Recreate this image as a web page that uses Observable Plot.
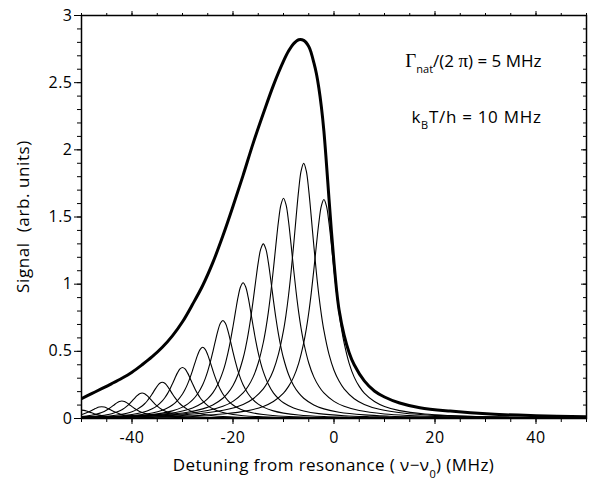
<!DOCTYPE html>
<html><head><meta charset="utf-8">
<script src="https://cdn.jsdelivr.net/npm/d3@7"></script>
<script src="https://cdn.jsdelivr.net/npm/@observablehq/plot@0.6"></script>
<style>
html,body{margin:0;padding:0;background:#fff;}
svg text{font-family:"Open Sans",sans-serif;}
</style>
</head><body><div id="chart"></div>
<script>
// Individual velocity-class peaks (center detuning in MHz, peak height)
const peakCenters = [-58, -54, -50, -46, -42, -38, -34, -30, -26, -22, -18, -14, -10, -6, -2];
const peakHeights = [0.030, 0.043, 0.062, 0.088, 0.13, 0.19, 0.27, 0.38, 0.53, 0.73, 1.01, 1.30, 1.64, 1.90, 1.63];
// Normalised single-peak line profile (offset from centre in MHz, fraction of height)
const profileOffsets   = [0, 0.5, 1, 1.5, 2, 2.5, 3, 3.5, 4, 5, 6, 7, 8, 10, 12, 15, 20, 25, 30, 40, 50, 60, 110];
const profileFractions = [1.000, 0.971, 0.894, 0.789, 0.678, 0.574, 0.483, 0.407, 0.345, 0.252, 0.189, 0.1465, 0.116, 0.0776, 0.0552, 0.036, 0.0206, 0.0133, 0.0093, 0.0052, 0.0034, 0.0023, 0.0007];
// Total (thick) signal curve
const envelopeX = [-50, -48, -46, -44, -42, -40, -38, -36, -34, -32, -30, -28, -26, -24, -22, -20, -18, -16, -14, -12, -10, -9, -8, -7, -6, -5, -4.5, -4, -3.5, -3, -2.5, -2, -1.5, -1, -0.5, 0, 0.5, 1, 2, 3, 4, 6, 8, 10, 13, 17, 23, 31, 40, 50];
const envelopeY = [0.148, 0.185, 0.222, 0.26, 0.30, 0.345, 0.40, 0.46, 0.53, 0.615, 0.72, 0.85, 0.99, 1.16, 1.36, 1.58, 1.81, 2.05, 2.27, 2.48, 2.66, 2.735, 2.79, 2.82, 2.815, 2.77, 2.72, 2.65, 2.57, 2.46, 2.32, 2.14, 1.90, 1.64, 1.39, 1.16, 0.96, 0.81, 0.62, 0.49, 0.40, 0.28, 0.205, 0.16, 0.115, 0.08, 0.055, 0.033, 0.021, 0.013];
// Ticks
const xMajorTicks = [-40, -20, 0, 20, 40];
const xMinorTicks = [-50, -45, -40, -35, -30, -25, -20, -15, -10, -5, 0, 5, 10, 15, 20, 25, 30, 35, 40, 45, 50];
const yMajorTicks = [0, 0.5, 1, 1.5, 2, 2.5, 3];
const yMinorTicks = [0, 0.1, 0.2, 0.3, 0.4, 0.5, 0.6, 0.7, 0.8, 0.9, 1, 1.1, 1.2, 1.3, 1.4, 1.5, 1.6, 1.7, 1.8, 1.9, 2, 2.1, 2.2, 2.3, 2.4, 2.5, 2.6, 2.7, 2.8, 2.9, 3];

const peaks = [];
peakCenters.forEach((c, i) => {
  const h = peakHeights[i];
  for (let j = profileOffsets.length - 1; j > 0; j--) peaks.push({x: c - profileOffsets[j], y: h * profileFractions[j], c});
  for (let j = 0; j < profileOffsets.length; j++) peaks.push({x: c + profileOffsets[j], y: h * profileFractions[j], c});
});
const envelope = envelopeX.map((x, i) => ({x, y: envelopeY[i]}));

const chart = Plot.plot({
  width: 597, height: 483,
  marginLeft: 81, marginRight: 11, marginTop: 15, marginBottom: 65,
  style: {fontFamily: "Open Sans", fontSize: "15px", color: "black", background: "white"},
  x: {domain: [-50, 50], label: null},
  y: {domain: [0, 3], label: null},
  marks: [
    Plot.line(peaks, {x: "x", y: "y", z: "c", stroke: "black", strokeWidth: 1.1, curve: "catmull-rom", clip: true}),
    Plot.line(envelope, {x: "x", y: "y", stroke: "black", strokeWidth: 3, curve: "catmull-rom", clip: true}),
    Plot.frame({stroke: "black", strokeWidth: 1.5}),
    Plot.axisX({ticks: xMajorTicks, tickSize: 6, tickPadding: 7, tickFormat: d => String(d), label: null, fontSize: 16}),
    Plot.axisX({ticks: xMinorTicks, tickSize: 4, fill: null, label: null}),
    Plot.axisX({anchor: "top", ticks: xMajorTicks, tickSize: 5, fill: null, label: null}),
    Plot.axisX({anchor: "top", ticks: xMinorTicks, tickSize: 3, fill: null, label: null}),
    Plot.axisY({ticks: yMajorTicks, tickSize: 7, tickPadding: 2, tickFormat: d => String(d), label: null, fontSize: 16}),
    Plot.axisY({ticks: yMinorTicks, tickSize: 4, fill: null, label: null}),
    Plot.axisY({anchor: "right", ticks: yMajorTicks, tickSize: -6, fill: null, label: null}),
    Plot.axisY({anchor: "right", ticks: yMinorTicks, tickSize: -4, fill: null, label: null})
  ]
});
document.getElementById("chart").appendChild(chart);
d3.select(chart).selectAll("g[aria-label='x-axis tick label'] text, g[aria-label='y-axis tick label'] text")
  .attr("letter-spacing", 0.5);

const svg = d3.select(chart);
const xs = chart.scale("x"), ys = chart.scale("y");
const cx = (xs.range[0] + xs.range[1]) / 2, cy = (ys.range[0] + ys.range[1]) / 2;

// x-axis label
const xl = svg.append("text").attr("x", cx).attr("y", 471).attr("text-anchor", "middle")
  .attr("font-size", 17).attr("letter-spacing", 0.4).attr("fill", "black");
xl.append("tspan").text("Detuning from resonance ( \u03bd\u2212\u03bd");
xl.append("tspan").attr("font-size", 11).attr("dy", 7).text("0");
xl.append("tspan").attr("dy", -7).text(") (MHz)");

// y-axis label
svg.append("text").attr("transform", `translate(29,${cy}) rotate(-90)`).attr("text-anchor", "middle")
  .attr("font-size", 17).attr("letter-spacing", 0.6).attr("fill", "black").attr("xml:space", "preserve")
  .text("Signal  (arb. units)");

// annotations
const ax = xs.apply(41.2);
const a1 = svg.append("text").attr("x", ax).attr("y", ys.apply(2.61)).attr("text-anchor", "end")
  .attr("font-size", 17).attr("fill", "black");
a1.append("tspan").attr("font-family", "Liberation Serif").attr("font-size", 19).text("\u0393");
a1.append("tspan").attr("font-size", 11).attr("dy", 6).text("nat");
a1.append("tspan").attr("dy", -6).text("/(2 ");
a1.append("tspan").attr("font-family", "Liberation Serif").attr("font-size", 19).text("\u03c0");
a1.append("tspan").text(") = 5 MHz");

const a2 = svg.append("text").attr("x", ax).attr("y", ys.apply(2.195)).attr("text-anchor", "end")
  .attr("font-size", 17).attr("letter-spacing", 0.7).attr("fill", "black");
a2.append("tspan").text("k");
a2.append("tspan").attr("font-size", 11).attr("dy", 6).text("B");
a2.append("tspan").attr("dy", -6).text("T/h = 10 MHz");
</script>
</body></html>
